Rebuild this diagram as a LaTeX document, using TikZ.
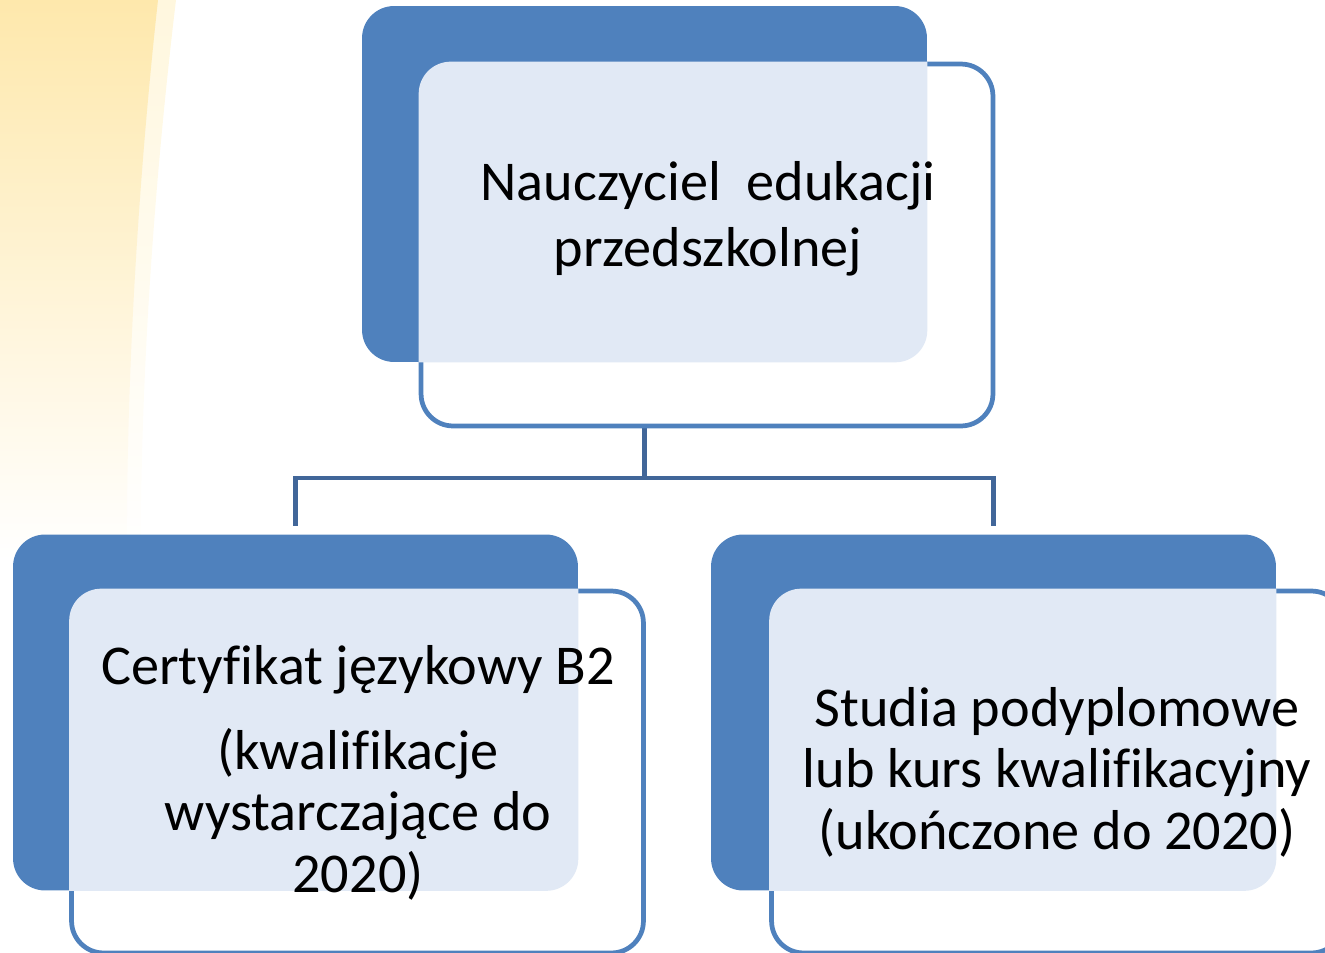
\documentclass[tikz,border=0pt]{standalone}
\usepackage{fontspec}
\setmainfont{Carlito}[Ligatures=NoCommon]
\usepackage{xcolor}
\usetikzlibrary{positioning}

\definecolor{boxblue}{RGB}{79,129,189}
\definecolor{linkblue}{RGB}{65,102,153}
\definecolor{dotfill}{RGB}{225,233,245}
\definecolor{glowyellow}{RGB}{254,232,172}
\definecolor{glowpale}{RGB}{255,247,222}

\begin{document}
\begin{tikzpicture}[
    x=0.02cm, y=-0.02cm,
    backbox/.style={
        rectangle,
        rounded corners=0.64cm,
        fill=boxblue,
        minimum width=11.3cm,
        minimum height=7.12cm,
        inner sep=0pt
    },
    frontbox/.style={
        rectangle,
        rounded corners=0.64cm,
        draw=boxblue,
        line width=2.7pt,
        fill=white,
        minimum width=11.44cm,
        minimum height=7.24cm,
        inner sep=0pt
    },
    boxtext/.style={
        align=center,
        font=\fontsize{32}{37.5}\selectfont
    },
    link/.style={
        draw=linkblue,
        line width=2.4pt
    }
]
\clip (0,0) rectangle (1325,953);

% Background glow
\shade[top color=glowpale, bottom color=white] (0,0) -- (176,0) .. controls (152,200) and (140,400) .. (141,560) -- (0,560) -- cycle;
\shade[top color=glowyellow, bottom color=white] (0,0) -- (158,0) .. controls (136,200) and (126,400) .. (127,560) -- (0,560) -- cycle;

% Back boxes
\node[backbox] (topback) at (644.5,184) {};
\node[backbox] (leftback) at (295.5,712.5) {};
\node[backbox] (rightback) at (993.5,712.5) {};

% Connectors
\draw[link] (topback.south) -- (topback.south |- 0,478) coordinate (fork);
\draw[link] (fork) -| ([yshift=0.16cm]leftback.north);
\draw[link] (fork) -| ([yshift=0.16cm]rightback.north);

% Front boxes
\node[frontbox] (topbox) at (707,245) {};
\node[frontbox] (leftbox) at (357.5,772) {};
\node[frontbox] (rightbox) at (1057.5,772) {};

% Overlaps
\foreach \b/\f in {topback/topbox, leftback/leftbox, rightback/rightbox} {
    \begin{scope}
        \clip[rounded corners=0.64cm] (\b.north west) rectangle (\b.south east);
        \fill[dotfill, rounded corners=0.64cm] (\f.north west) rectangle (\f.south east);
    \end{scope}
}

% Texts
\node[boxtext] (toptext) at (708,219) {Nauczyciel\ \ edukacji\\przedszkolnej};
\node[boxtext, font=\fontsize{32}{35}\selectfont] (lefttext) at (358,773) {Certyfikat językowy B2\\[0.46cm](kwalifikacje\\wystarczające do\\2020)};
\node[boxtext, font=\fontsize{32}{35}\selectfont] (righttext) at (1057,772) {Studia podyplomowe\\lub kurs kwalifikacyjny\\(ukończone do 2020)};
\end{tikzpicture}
\end{document}
